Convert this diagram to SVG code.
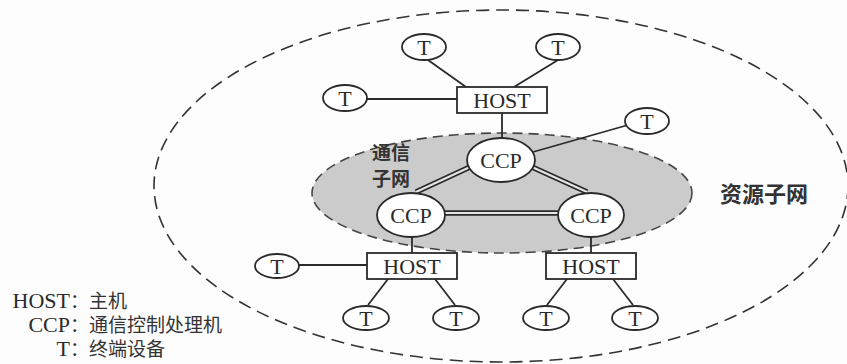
<svg xmlns="http://www.w3.org/2000/svg" width="847" height="364" viewBox="0 0 847 364">
<style>
.ln{stroke:#2a2a2a;stroke-width:1.8;fill:none}
.nd{fill:#fff;stroke:#2a2a2a;stroke-width:1.8}
.lbl{font-family:"Liberation Serif","Times New Roman",serif;font-size:22px;fill:#2a2a2a;text-anchor:middle}
.lg{font-family:"Liberation Serif","Times New Roman",serif;font-size:22px;fill:#2a2a2a}
.cjk{font-family:"Noto Sans CJK SC","Liberation Serif",serif;fill:#333}
.dbl{stroke:#2a2a2a;stroke-width:5.5;fill:none}
.dblin{stroke:#e6e6e6;stroke-width:2;fill:none}
</style>
<rect width="847" height="364" fill="#fdfdfd"/>
<g id="resource-subnet">
<ellipse cx="501" cy="186" rx="347" ry="176" fill="none" stroke="#333" stroke-width="1.6" stroke-dasharray="13 7"/>
<text class="cjk" x="764" y="202" font-size="22" font-weight="bold" text-anchor="middle" fill="#555">资源子网</text>
</g>
<g id="comm-subnet">
<ellipse cx="502" cy="193" rx="190" ry="60" fill="#cbcbcb" stroke="#444" stroke-width="1.6" stroke-dasharray="10 6"/>
<text class="cjk" font-size="19" font-weight="bold" fill="#4a4a4a"><tspan x="372" y="160">通信</tspan><tspan x="372" y="186">子网</tspan></text>
</g>
<g id="connectors">
<line class="ln" x1="428" y1="60" x2="466" y2="87"/>
<line class="ln" x1="558" y1="60" x2="514" y2="87"/>
<line class="ln" x1="367" y1="99" x2="457" y2="99"/>
<line class="ln" x1="502" y1="113" x2="502" y2="138"/>
<line class="ln" x1="533" y1="152" x2="628" y2="125"/>
<line class="dbl" x1="470" y1="167" x2="416" y2="192"/>
<line class="dblin" x1="470" y1="167" x2="416" y2="192"/>
<line class="dbl" x1="532" y1="167" x2="587" y2="192"/>
<line class="dblin" x1="532" y1="167" x2="587" y2="192"/>
<line class="dbl" x1="445" y1="213" x2="558" y2="213"/>
<line class="dblin" x1="445" y1="213" x2="558" y2="213"/>
<line class="ln" x1="412" y1="237" x2="412" y2="253"/>
<line class="ln" x1="591" y1="237" x2="591" y2="253"/>
<line class="ln" x1="299" y1="265" x2="367" y2="265"/>
<line class="ln" x1="388" y1="279" x2="368" y2="305"/>
<line class="ln" x1="435" y1="279" x2="455" y2="305"/>
<line class="ln" x1="567" y1="279" x2="547" y2="305"/>
<line class="ln" x1="613" y1="279" x2="633" y2="305"/>
</g>
<g id="host-top"><rect class="nd" x="457" y="87" width="90" height="26"/><text class="lbl" x="502" y="108">HOST</text></g>
<g id="t-top-1"><ellipse class="nd" cx="424" cy="47" rx="22" ry="13"/><text class="lbl" x="424" y="55">T</text></g>
<g id="t-top-2"><ellipse class="nd" cx="558" cy="47" rx="22" ry="13"/><text class="lbl" x="558" y="55">T</text></g>
<g id="t-top-left"><ellipse class="nd" cx="345" cy="98" rx="22" ry="13"/><text class="lbl" x="345" y="106">T</text></g>
<g id="t-right"><ellipse class="nd" cx="647" cy="121" rx="22" ry="13"/><text class="lbl" x="647" y="129">T</text></g>
<g id="ccp-top"><ellipse class="nd" cx="501" cy="160" rx="34" ry="22"/><text class="lbl" x="501" y="168">CCP</text></g>
<g id="ccp-left"><ellipse class="nd" cx="411" cy="215" rx="34" ry="22"/><text class="lbl" x="411" y="223">CCP</text></g>
<g id="ccp-right"><ellipse class="nd" cx="591" cy="215" rx="33" ry="22"/><text class="lbl" x="591" y="223">CCP</text></g>
<g id="host-left"><rect class="nd" x="367" y="253" width="90" height="26"/><text class="lbl" x="412" y="274">HOST</text></g>
<g id="host-right"><rect class="nd" x="546" y="253" width="90" height="26"/><text class="lbl" x="591" y="274">HOST</text></g>
<g id="t-bl"><ellipse class="nd" cx="277" cy="266" rx="22" ry="12"/><text class="lbl" x="277" y="274">T</text></g>
<g id="t-b1"><ellipse class="nd" cx="366" cy="318" rx="23" ry="12"/><text class="lbl" x="366" y="326">T</text></g>
<g id="t-b2"><ellipse class="nd" cx="456" cy="318" rx="23" ry="12"/><text class="lbl" x="456" y="326">T</text></g>
<g id="t-b3"><ellipse class="nd" cx="546" cy="318" rx="23" ry="12"/><text class="lbl" x="546" y="326">T</text></g>
<g id="t-b4"><ellipse class="nd" cx="635" cy="318" rx="23" ry="12"/><text class="lbl" x="635" y="326">T</text></g>
<g id="legend">
<text class="lg" x="12.6" y="308">HOST<tspan class="cjk" font-size="19" fill="#2a2a2a">：主机</tspan></text>
<text class="lg" x="28.4" y="332">CCP<tspan class="cjk" font-size="19" fill="#2a2a2a">：通信控制处理机</tspan></text>
<text class="lg" x="56.6" y="356">T<tspan class="cjk" font-size="19" fill="#2a2a2a">：终端设备</tspan></text>
</g>
</svg>
